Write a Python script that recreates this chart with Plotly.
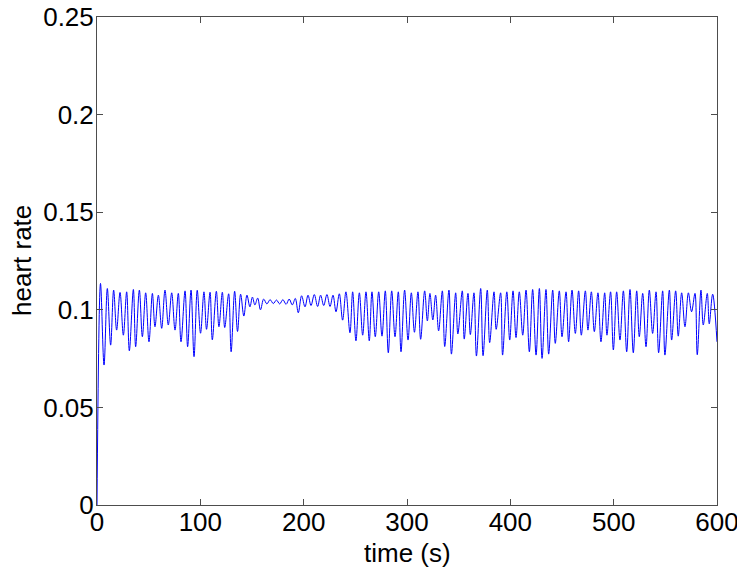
import plotly.graph_objects as go

# Extrema of the heart-rate trace (time in s)
time_s = [
    0.0, 3.4, 6.8, 10.0, 13.2, 16.1, 19.0, 22.3, 25.5, 28.7, 31.3, 35.2, 37.4, 41.0, 43.9,
    47.1, 50.3, 53.6, 56.1, 59.4, 62.6, 65.8, 69.0, 72.3, 75.5, 78.7, 81.3, 85.2, 87.7,
    91.0, 93.9, 97.0, 100.2, 103.5, 106.0, 109.4, 111.6, 115.5, 118.0, 121.3, 123.6,
    127.4, 129.8, 133.2, 136.0, 139.0, 142.1, 145.1, 148.0, 150.4, 152.8, 155.5, 158.2,
    161.3, 164.4, 167.5, 170.6, 173.7, 176.8, 179.9, 183.0, 186.0, 189.0, 191.9, 194.8,
    198.0, 201.3, 204.2, 207.1, 210.3, 213.5, 216.4, 219.4, 222.5, 225.5, 228.4, 231.3,
    234.5, 237.7, 240.9, 244.8, 247.4, 250.6, 253.9, 257.1, 260.3, 263.5, 266.1, 269.3,
    272.6, 275.8, 279.0, 281.9, 285.2, 288.4, 291.6, 294.2, 297.7, 301.0, 304.2, 307.2,
    310.6, 313.2, 317.1, 319.7, 322.2, 325.0, 327.7, 330.6, 334.2, 336.5, 340.6, 343.0,
    347.1, 349.2, 353.5, 355.4, 359.0, 361.3, 364.8, 367.2, 371.3, 373.6, 377.7, 380.0,
    384.2, 386.3, 390.6, 392.5, 396.6, 399.4, 402.6, 405.5, 408.7, 412.0, 415.2, 418.4,
    421.6, 424.9, 428.1, 430.7, 434.5, 437.1, 441.0, 443.5, 447.4, 450.0, 453.9, 456.4,
    459.7, 462.9, 466.1, 468.7, 472.6, 475.1, 478.4, 481.3, 484.8, 487.7, 491.3, 493.5,
    497.0, 499.7, 502.9, 506.1, 509.4, 512.6, 515.8, 519.0, 522.3, 524.8, 528.1, 531.3,
    534.5, 537.7, 541.0, 543.5, 547.4, 549.6, 553.9, 556.1, 560.0, 562.5, 565.8, 569.0,
    572.3, 575.4, 578.7, 580.9, 584.5, 586.7, 590.6, 592.5, 595.8, 600.0,
]

heart_rate = [
    0.0, 0.1135, 0.0717, 0.1109, 0.0819, 0.1101, 0.0896, 0.1089, 0.0870, 0.1092, 0.0790,
    0.1104, 0.0811, 0.1101, 0.0862, 0.1087, 0.0836, 0.1084, 0.0913, 0.1075, 0.0905,
    0.1101, 0.0922, 0.1087, 0.0896, 0.1084, 0.0836, 0.1097, 0.0811, 0.1101, 0.0760,
    0.1100, 0.0880, 0.1092, 0.0900, 0.1090, 0.0846, 0.1095, 0.0913, 0.1090, 0.0909,
    0.1082, 0.0785, 0.1095, 0.0889, 0.1080, 0.0968, 0.1075, 0.1015, 0.1065, 0.1025,
    0.1060, 0.1000, 0.1055, 0.1030, 0.1052, 0.1032, 0.1050, 0.1030, 0.1052, 0.1028,
    0.1055, 0.1025, 0.1058, 0.0985, 0.1072, 0.1015, 0.1075, 0.1022, 0.1078, 0.1017,
    0.1075, 0.1022, 0.1078, 0.1017, 0.1075, 0.0990, 0.1082, 0.0947, 0.1092, 0.0882,
    0.1092, 0.0841, 0.1087, 0.0870, 0.1092, 0.0841, 0.1092, 0.0862, 0.1092, 0.0865,
    0.1097, 0.0780, 0.1097, 0.0862, 0.1092, 0.0785, 0.1101, 0.0845, 0.1087, 0.0885,
    0.1092, 0.0849, 0.1097, 0.0943, 0.1084, 0.0948, 0.1075, 0.0892, 0.1097, 0.0812,
    0.1101, 0.0773, 0.1087, 0.0876, 0.1097, 0.0850, 0.1084, 0.0873, 0.1087, 0.0763,
    0.1109, 0.0765, 0.1101, 0.0832, 0.1092, 0.0900, 0.1087, 0.0768, 0.1092, 0.0845,
    0.1097, 0.0858, 0.1092, 0.0870, 0.1101, 0.0785, 0.1104, 0.0768, 0.1109, 0.0751,
    0.1104, 0.0773, 0.1101, 0.0828, 0.1097, 0.0862, 0.1092, 0.0836, 0.1101, 0.0879,
    0.1097, 0.0870, 0.1097, 0.0896, 0.1092, 0.0888, 0.1087, 0.0836, 0.1087, 0.0870,
    0.1092, 0.0794, 0.1092, 0.0845, 0.1097, 0.0785, 0.1104, 0.0780, 0.1097, 0.0862,
    0.1084, 0.0811, 0.1101, 0.0879, 0.1092, 0.0780, 0.1097, 0.0768, 0.1101, 0.0845,
    0.1097, 0.0865, 0.1087, 0.0913, 0.1087, 0.0990, 0.1084, 0.0770, 0.1101, 0.0922,
    0.1084, 0.0928, 0.1080, 0.0836,
]

x_ticks = [0, 100, 200, 300, 400, 500, 600]
y_ticks = [0, 0.05, 0.1, 0.15, 0.2, 0.25]
y_tick_labels = ["0", "0.05", "0.1", "0.15", "0.2", "0.25"]
x_title = "time (s)"
y_title = "heart rate"

FONT = "Liberation Sans, Arial, Helvetica, sans-serif"
FS = 26

fig = go.Figure()
fig.add_trace(go.Scatter(
    x=time_s, y=heart_rate, mode="lines",
    line=dict(color="#0000ff", width=1, shape="spline", smoothing=1.0),
    hoverinfo="skip", showlegend=False,
))

axis_common = dict(
    showline=True, linecolor="#4d4d4d", linewidth=1, mirror="ticks",
    ticks="inside", ticklen=6, tickcolor="#4d4d4d", tickwidth=1,
    showgrid=False, zeroline=False, automargin=False,
    ticklabeloverflow="allow",
    tickfont=dict(family=FONT, size=FS, color="#000000"),
)

# the page body adds an 8px offset, so the figure is sized/margined to compensate
fig.update_layout(
    width=737, height=567,
    margin=dict(l=89, r=28, t=9, b=70),
    paper_bgcolor="#ffffff", plot_bgcolor="#ffffff",
    font=dict(family=FONT, size=FS, color="#000000"),
    xaxis=dict(range=[0, 600], tickvals=x_ticks, ticktext=[str(v) for v in x_ticks],
               ticklabelstandoff=-6, **axis_common),
    yaxis=dict(range=[0, 0.25], tickvals=y_ticks, ticktext=y_tick_labels,
               ticklabelstandoff=-3, **axis_common),
    annotations=[
        dict(text=x_title, xref="paper", yref="paper", x=0.5, y=0,
             xanchor="center", yanchor="middle", yshift=-48, showarrow=False,
             font=dict(family=FONT, size=FS, color="#000000")),
        dict(text=y_title, xref="paper", yref="paper", x=0, y=0.5,
             xanchor="center", yanchor="middle", xshift=-75, textangle=-90,
             showarrow=False, font=dict(family=FONT, size=FS, color="#000000")),
    ],
)

fig.write_html("out.html")
